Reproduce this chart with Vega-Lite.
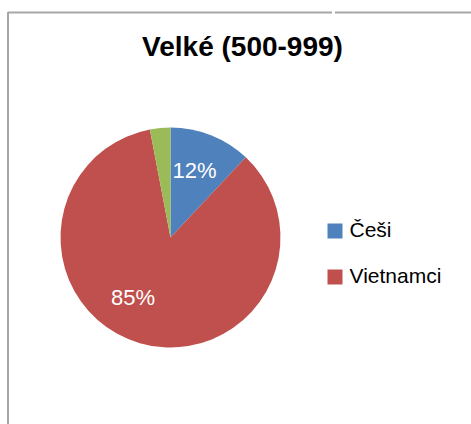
{
  "$schema": "https://vega.github.io/schema/vega-lite/v6.json",
  "autosize": {"type": "pad"},
  "padding": {"left": 7, "top": 10.5, "right": 0, "bottom": 0},
  "background": "white",
  "spacing": 0,
  "config": {
    "font": "Liberation Sans",
    "concat": {"spacing": 0}
  },
  "title": {
    "text": "Velké (500-999)",
    "font": "Liberation Sans",
    "fontSize": 28,
    "fontWeight": "bold",
    "color": "#000000",
    "anchor": "start",
    "align": "center",
    "frame": "group",
    "baseline": "alphabetic",
    "dx": 234.5,
    "offset": -73
  },
  "hconcat": [
    {
      "width": 325,
      "height": 450,
      "view": {"stroke": "#a6a6a6", "strokeWidth": 2, "strokeDash": [324, 776, 450], "strokeJoin": "bevel"},
      "data": {
        "values": [
          {"kategorie": "Češi", "podil": 0.12, "poradi": 1},
          {"kategorie": "Vietnamci", "podil": 0.85, "poradi": 2},
          {"kategorie": "Ostatní", "podil": 0.03, "poradi": 3}
        ]
      },
      "encoding": {
        "theta": {"field": "podil", "type": "quantitative", "stack": true},
        "order": {"field": "poradi", "type": "quantitative"},
        "color": {
          "field": "kategorie",
          "type": "nominal",
          "scale": {"domain": ["Češi", "Vietnamci", "Ostatní"], "range": ["#4F81BD", "#C0504D", "#9BBB59"]},
          "legend": {
            "values": ["Češi", "Vietnamci"],
            "title": null,
            "orient": "none",
            "legendX": 316.5,
            "legendY": 208,
            "padding": 0,
            "symbolType": "square",
            "symbolSize": 225,
            "symbolStrokeWidth": 0,
            "labelFontSize": 21,
            "labelFont": "Liberation Sans",
            "labelColor": "#000000",
            "labelOffset": 4,
            "rowPadding": 24
          }
        }
      },
      "layer": [
        {"mark": {"type": "arc", "outerRadius": 110, "stroke": null}},
        {
          "mark": {"type": "text", "radius": 71, "fontSize": 22, "font": "Liberation Sans", "dx": -2},
          "encoding": {
            "text": {
              "condition": {"test": "datum.kategorie !== 'Češi'", "value": ""},
              "field": "podil", "type": "quantitative", "format": ".0%"
            },
            "color": {"value": "white"}
          }
        },
        {
          "mark": {"type": "text", "radius": 73, "fontSize": 22, "font": "Liberation Sans", "dx": -17, "dy": -10},
          "encoding": {
            "text": {
              "condition": {"test": "datum.kategorie !== 'Vietnamci'", "value": ""},
              "field": "podil", "type": "quantitative", "format": ".0%"
            },
            "color": {"value": "white"}
          }
        }
      ]
    },
    {
      "width": 138,
      "height": 450,
      "view": {"stroke": "#a6a6a6", "strokeWidth": 2, "strokeDash": [139, 2000], "strokeCap": "square", "strokeJoin": "bevel"},
      "data": {"values": []},
      "mark": "rule",
      "encoding": {}
    }
  ]
}
